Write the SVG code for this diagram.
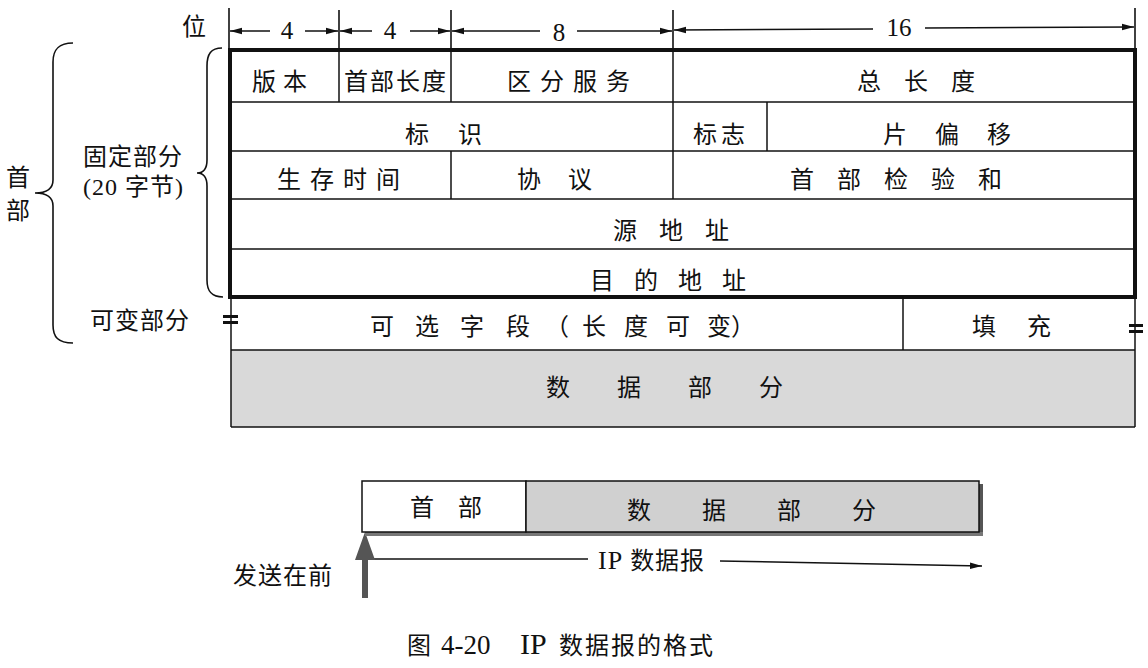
<svg xmlns="http://www.w3.org/2000/svg" width="1148" height="668" viewBox="0 0 1148 668">
<style>
.t{font-family:"Liberation Serif","Noto Sans CJK SC",serif;font-size:24px;fill:#111}
.n{font-family:"Liberation Serif",serif;font-size:25px;fill:#111}
.ln{stroke:#111;stroke-width:1.5;fill:none}
.tk{stroke:#111;stroke-width:1.6;fill:none}
.gray{fill:#d9d9d9}
</style>
<defs>
<marker id="ah" markerWidth="12" markerHeight="8" refX="12" refY="4" orient="auto" markerUnits="userSpaceOnUse">
<path d="M0,0.8 L12,4 L0,7.2 z" fill="#111"/>
</marker>
</defs>
<rect width="1148" height="668" fill="#fff"/>

<!-- ruler -->
<g id="ruler">
<text class="t" x="182" y="35">位</text>
<line class="tk" x1="229" y1="8" x2="229" y2="50"/>
<line class="tk" x1="339" y1="10" x2="339" y2="50"/>
<line class="tk" x1="451" y1="10" x2="451" y2="50"/>
<line class="tk" x1="673" y1="10" x2="673" y2="50"/>
<line class="tk" x1="1135" y1="8" x2="1135" y2="50"/>
<text class="n" x="287" y="39" text-anchor="middle">4</text>
<text class="n" x="390" y="39" text-anchor="middle">4</text>
<text class="n" x="559" y="41" text-anchor="middle">8</text>
<text class="n" x="899" y="36" text-anchor="middle">16</text>
</g>

<g id="connectors">
<line class="ln" x1="270" y1="31" x2="230" y2="31" marker-end="url(#ah)"/>
<line class="ln" x1="305" y1="31" x2="338" y2="31" marker-end="url(#ah)"/>
<line class="ln" x1="372" y1="31" x2="340" y2="31" marker-end="url(#ah)"/>
<line class="ln" x1="410" y1="31" x2="450" y2="31" marker-end="url(#ah)"/>
<line class="ln" x1="540" y1="31" x2="452" y2="31" marker-end="url(#ah)"/>
<line class="ln" x1="577" y1="31" x2="672" y2="31" marker-end="url(#ah)"/>
<line class="ln" x1="873" y1="29" x2="674" y2="30" marker-end="url(#ah)"/>
<line class="ln" x1="925" y1="28" x2="1134" y2="27" marker-end="url(#ah)"/>
<line class="ln" x1="372" y1="559" x2="588" y2="559"/>
<line class="ln" x1="720" y1="561" x2="982" y2="566" marker-end="url(#ah)"/>
<polygon id="send-arrow" points="365,532 375,560 368,560 368,598 362,598 362,560 355,560" fill="#555"/>
</g>

<!-- braces and side labels -->
<g id="brace-fixed">
<path class="tk" d="M222 48 C211 48 207 54 207 66 L207 160 C207 169 203 173 197 173 C203 173 207 177 207 186 L207 280 C207 291 211 297 223 297"/>
<text class="t" x="83" y="165" font-size="26" letter-spacing="1">固定部分</text>
<text class="t" x="83" y="195" font-size="26" letter-spacing="1">(20 字节)</text>
</g>
<g id="brace-header">
<path class="tk" d="M73 43 C58 43 53 50 53 62 L53 180 C53 189 46 193 35 193 C46 193 53 197 53 206 L53 325 C53 337 58 343 73 343"/>
<text class="t" x="6" y="186">首</text>
<text class="t" x="6" y="219">部</text>
</g>
<g id="label-variable">
<text class="t" x="90" y="329" font-size="26" letter-spacing="1">可变部分</text>
</g>

<!-- fixed header table -->
<g id="table-lines">
<line class="ln" x1="230" y1="102" x2="1135" y2="102"/>
<line class="ln" x1="230" y1="151" x2="1135" y2="151"/>
<line class="ln" x1="230" y1="199" x2="1135" y2="199"/>
<line class="ln" x1="230" y1="249" x2="1135" y2="249"/>
<line class="ln" x1="339" y1="50" x2="339" y2="102"/>
<line class="ln" x1="451" y1="50" x2="451" y2="102"/>
<line class="ln" x1="673" y1="50" x2="673" y2="199"/>
<line class="ln" x1="767" y1="102" x2="767" y2="151"/>
<line class="ln" x1="451" y1="151" x2="451" y2="199"/>
<rect x="230" y="50" width="905" height="247" fill="none" stroke="#111" stroke-width="4"/>
</g>
<g id="f-version"><text class="t" x="252" y="90" letter-spacing="7">版本</text></g>
<g id="f-ihl"><text class="t" x="344" y="90" letter-spacing="2">首部长度</text></g>
<g id="f-ds"><text class="t" x="507" y="90" letter-spacing="9">区分服务</text></g>
<g id="f-total"><text class="t" x="857" y="90" letter-spacing="23">总长度</text></g>
<g id="f-id"><text class="t" x="405" y="143" letter-spacing="29">标识</text></g>
<g id="f-flags"><text class="t" x="693" y="143" letter-spacing="4">标志</text></g>
<g id="f-offset"><text class="t" x="883" y="143" letter-spacing="28">片偏移</text></g>
<g id="f-ttl"><text class="t" x="277" y="188" letter-spacing="9">生存时间</text></g>
<g id="f-proto"><text class="t" x="517" y="188" letter-spacing="27">协议</text></g>
<g id="f-checksum"><text class="t" x="790" y="188" letter-spacing="23">首部检验和</text></g>
<g id="f-src"><text class="t" x="613" y="239" letter-spacing="22">源地址</text></g>
<g id="f-dst"><text class="t" x="590" y="289" letter-spacing="20">目的地址</text></g>

<!-- variable part -->
<g id="data-part">
<rect class="gray" x="231" y="350" width="904" height="77"/>
<text class="t" x="546" y="396" letter-spacing="47">数据部分</text>
</g>
<g id="options">
<line class="ln" x1="231" y1="297" x2="231" y2="427"/>
<line class="ln" x1="1135" y1="297" x2="1135" y2="427"/>
<line class="ln" x1="231" y1="350" x2="1135" y2="350"/>
<line class="ln" x1="231" y1="427" x2="1135" y2="427"/>
<line class="ln" x1="903" y1="297" x2="903" y2="350"/>
<rect x="223" y="315" width="15" height="3" fill="#111"/>
<rect x="223" y="321" width="15" height="3" fill="#111"/>
<rect x="1129" y="324" width="14" height="3" fill="#111"/>
<rect x="1129" y="330" width="14" height="3" fill="#111"/>
<text class="t" y="335"><tspan x="370">可</tspan><tspan x="415">选</tspan><tspan x="460">字</tspan><tspan x="506">段</tspan><tspan x="545">（</tspan><tspan x="582">长</tspan><tspan x="624">度</tspan><tspan x="666">可</tspan><tspan x="707">变</tspan><tspan x="731">）</tspan></text>
</g>
<g id="padding"><text class="t" x="972" y="335" letter-spacing="31">填充</text></g>

<!-- bottom datagram -->
<g id="dg-shadow">
<rect x="979" y="484" width="4" height="52" fill="#555"/>
<rect x="365" y="532" width="618" height="4" fill="#777"/>
</g>
<g id="dg-header">
<rect x="362" y="481" width="164" height="51" fill="#fff" stroke="#111" stroke-width="1.5"/>
<text class="t" x="410" y="516" font-size="23" letter-spacing="24">首部</text>
</g>
<g id="dg-data">
<rect x="526" y="481" width="453" height="51" fill="#d0d0d0" stroke="#111" stroke-width="1.5"/>
<text class="t" x="627" y="519" letter-spacing="51">数据部分</text>
</g>
<g id="dg-label"><text class="t" x="598" y="569" letter-spacing="1"><tspan font-size="26">IP</tspan> 数据报</text></g>
<g id="send-label"><text class="t" x="233" y="584" font-size="25" letter-spacing="1">发送在前</text></g>

<g id="caption">
<text class="t" y="654" font-size="27"><tspan x="407">图</tspan><tspan x="441" font-size="27">4-20</tspan><tspan x="520" font-size="30">IP</tspan><tspan x="559" letter-spacing="2">数据报的格式</tspan></text>
</g>
</svg>
